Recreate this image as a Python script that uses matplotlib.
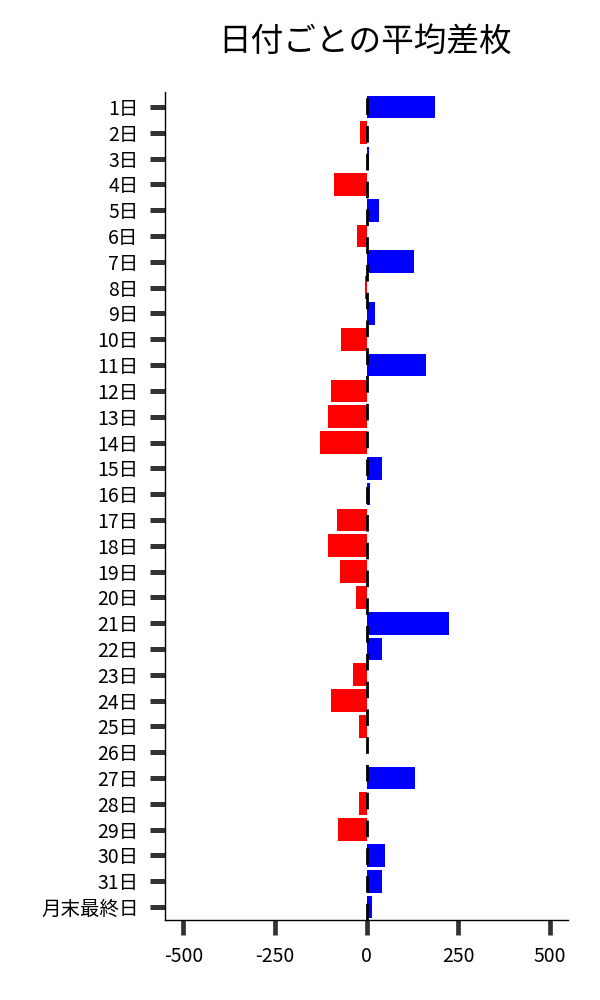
import matplotlib
matplotlib.use('Agg')
from matplotlib import pyplot as plt

plt.rcParams['font.family'] = ['Noto Sans CJK JP', 'DejaVu Sans']

days = [f'{d}日' for d in range(1, 32)] + ['月末最終日']
diff = [187, -19, 7, -90, 35, -27, 128, -5, 22, -71,
        163, -98, -106, -128, 43, 10, -82, -106, -73, -30,
        226, 41, -38, -98, -22, 1, 133, -22, -79, 49,
        41, 14]
xticks = [-500, -250, 0, 250, 500]

colors = ['blue' if v >= 0 else 'red' for v in diff]
pos = list(range(len(days)))

fig = plt.figure(figsize=(6, 10), dpi=100)
ax = fig.add_axes([0.275, 0.08, 0.672, 0.828])

ax.barh(pos, diff, height=0.88, color=colors, zorder=2)
ax.axvline(0, color='black', linestyle=(0, (6, 4)), linewidth=2, zorder=3)

ax.set_yticks(pos)
ax.set_yticklabels(days, fontsize=14)
ax.set_ylim(len(days) - 0.5, -0.58)
ax.set_xlim(-550, 550)
ax.set_xticks(xticks)
ax.set_xticklabels([str(t) for t in xticks], fontsize=14)

ax.tick_params(axis='y', length=11, width=3.6, color='#333333', pad=8)
ax.tick_params(axis='x', length=11, width=3.4, color='#333333', pad=8)

for s in ['top', 'right']:
    ax.spines[s].set_visible(False)
for s in ['left', 'bottom']:
    ax.spines[s].set_linewidth(1)

fig.text(0.608, 0.958, '日付ごとの平均差枚', fontsize=23.5, ha='center', va='center')

plt.savefig('out.png')
